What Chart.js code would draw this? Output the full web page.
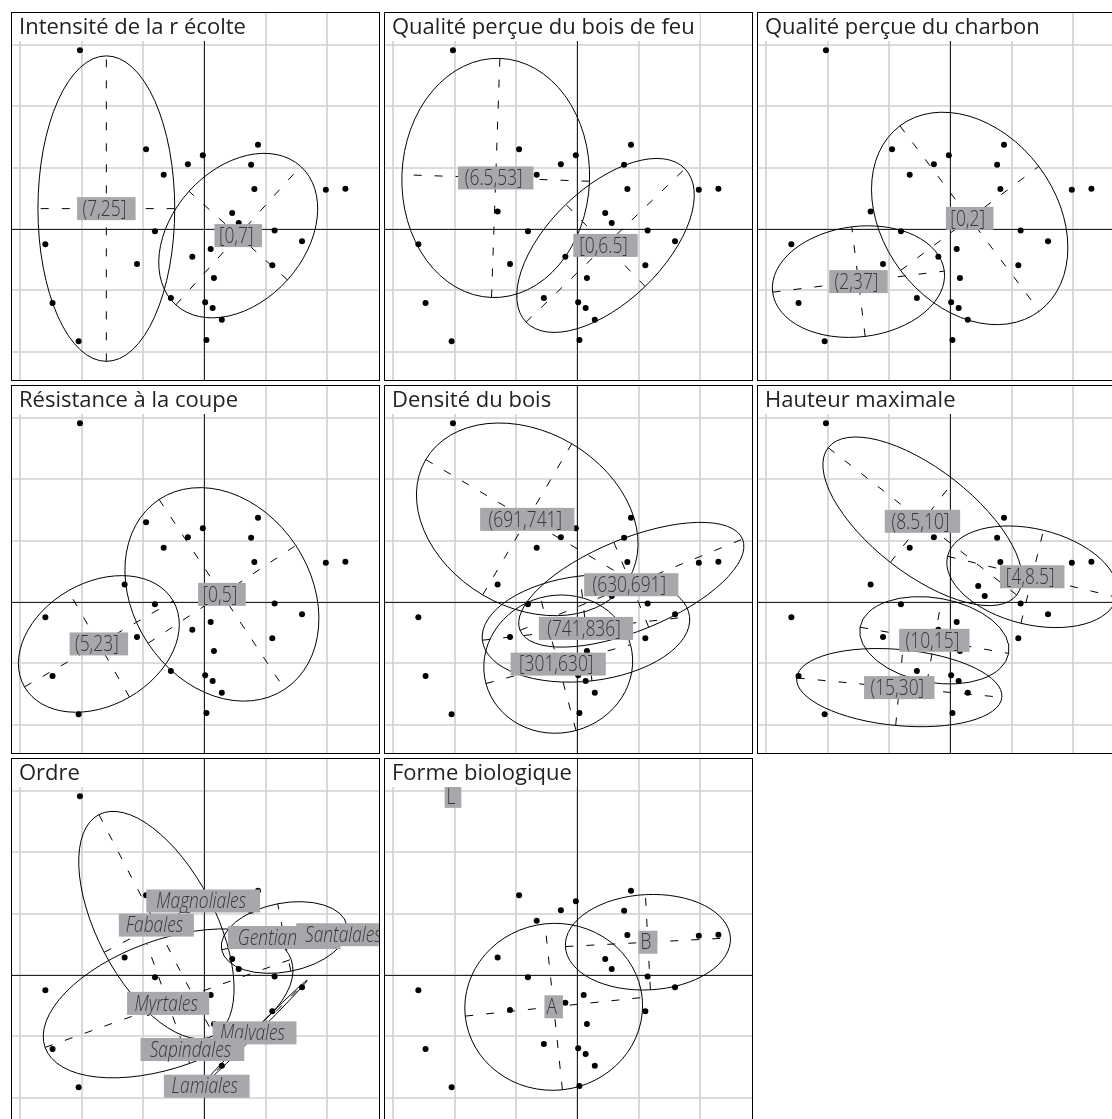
<!DOCTYPE html>
<html>
<head>
<meta charset="utf-8">
<script src="https://cdn.jsdelivr.net/npm/chart.js@4.4.0/dist/chart.umd.min.js"></script>
<style>
body { margin: 0; background: #fff; width: 1112px; height: 1119px; overflow: hidden; position: relative; }
canvas.panel { position: absolute; }
</style>
</head>
<body>
<script>
// species coordinates on the first two axes (grid units)
var pointX = [-2.03, -0.952, -0.027, -0.271, -0.665, 0.872, 0.760, 0.813, 1.978, 2.297, 0.452, 0.558, 1.143, 1.590, -0.808,
    -2.594, 0.101, -0.198, -1.100, 1.106, 0.154, -2.477, -0.548, 0.011, 0.133, 0.282, -2.052, 0.032, -1.302];
var pointY = [2.91, 1.297, 1.201, 1.053, 0.883, 1.372, 1.047, 0.649, 0.638, 0.654, 0.260, 0.096, -0.027, -0.202, -0.037,
    -0.25, -0.33, -0.453, -0.574, -0.595, -0.803, -1.207, -1.127, -1.196, -1.292, -1.483, -1.834, -1.813, 0.282];

var panelTitles = ['Intensité de la r écolte', 'Qualité perçue du bois de feu', 'Qualité perçue du charbon',
    'Résistance à la coupe', 'Densité du bois', 'Hauteur maximale', 'Ordre', 'Forme biologique'];

// one entry per class: panel, label, centre, ellipse half axes and angle (degrees)
var classPanel = [0, 0, 1, 1, 2, 2, 3, 3, 4, 4, 4, 4, 5, 5, 5, 5, 6, 6, 6, 6, 6, 6, 6, 6, 7, 7, 7];
var classLabel = ['(7,25]', '[0,7]', '(6.5,53]', '[0,6.5]', '[0,2]', '(2,37]', '[0,5]', '(5,23]',
    '(691,741]', '(630,691]', '(741,836]', '[301,630]', '(8.5,10]', '[4,8.5]', '(10,15]', '(15,30]',
    'Fabales', 'Gentianales', 'Lamiales', 'Magnoliales', 'Malvales', 'Myrtales', 'Santalales', 'Sapindales',
    'A', 'B', 'L'];
var classX = [-1.60, 0.55, -1.333, 0.457, 0.313, -1.50, 0.284, -1.722, -0.819, 0.877, 0.138, -0.314,
    -0.457, 1.332, -0.263, -0.835, -0.784, 1.30, 0.037, -0.021, 0.816, -0.593, 2.297, -0.197, -0.388, 1.148, -2.03];
var classY = [0.33, -0.11, 0.83, -0.27, 0.17, -0.86, 0.122, -0.686, 1.345, 0.279, -0.433, -1.015,
    1.313, 0.409, -0.627, -1.398, 0.811, 0.609, -1.815, 1.204, -0.946, -0.465, 0.654, -1.217, -0.521, 0.532, 2.91];
var ellA = [2.49, 1.52, 1.95, 1.80, 1.89, 1.41, 1.855, 1.40, 1.92, 1.96, 1.70, 1.22,
    1.95, 1.42, 1.23, 1.68, 2.03, 1.04, 0, 0, 1.21, 2.13, 0, 0, 1.45, 1.347, 0];
var ellB = [1.115, 1.08, 1.53, 0.93, 1.41, 0.90, 1.445, 1.0, 1.43, 0.75, 0.86, 1.12,
    0.85, 0.78, 0.69, 0.62, 0.96, 0.56, 0, 0, 0.035, 1.04, 0, 0, 1.36, 0.777, 0];
var ellAngle = [90, 48, 88, 44, -53, 7, -56.5, 30, -30.5, 22.3, 6.5, 15,
    -38, -13.6, -10, -5.4, -62.5, 11, 0, 0, 45, 19.7, 0, 0, 6, 3, 0];

var xMin = -3.089, xMax = 2.796, yMin = -2.415, yMax = 3.470;
var italicPanel = 6;
var labelSquash = 0.79;

var points = [];
for (var i = 0; i < pointX.length; i++) points.push({ x: pointX[i], y: pointY[i] });

function seg(ctx, x1, y1, x2, y2) {
    ctx.beginPath();
    ctx.moveTo(x1, y1);
    ctx.lineTo(x2, y2);
    ctx.stroke();
}

var sclassPlugin = {
    id: 'sclass',
    beforeDatasetsDraw: function (chart) {
        var ctx = chart.ctx, xs = chart.scales.x, ys = chart.scales.y;
        var w = chart.width, h = chart.height;
        ctx.save();
        ctx.fillStyle = '#fff';
        ctx.fillRect(0, 0, w, h);
        ctx.strokeStyle = '#d0d0d0';
        ctx.lineWidth = 1.6;
        for (var k = Math.ceil(xMin); k <= xMax; k++) {
            var px = Math.round(xs.getPixelForValue(k));
            seg(ctx, px, 0, px, h);
        }
        for (var k = Math.ceil(yMin); k <= yMax; k++) {
            var py = Math.round(ys.getPixelForValue(k));
            seg(ctx, 0, py, w, py);
        }
        ctx.strokeStyle = '#222';
        ctx.lineWidth = 1;
        var x0 = Math.round(xs.getPixelForValue(0)) + 0.5, y0 = Math.round(ys.getPixelForValue(0)) + 0.5;
        seg(ctx, x0, 0, x0, h);
        seg(ctx, 0, y0, w, y0);
        ctx.restore();
    },
    afterDatasetsDraw: function (chart) {
        var ctx = chart.ctx, xs = chart.scales.x, ys = chart.scales.y;
        var p = chart.options.plugins.sclass.panel;
        var unit = xs.getPixelForValue(1) - xs.getPixelForValue(0);
        ctx.save();
        ctx.strokeStyle = '#000';
        ctx.lineWidth = 1;
        for (var i = 0; i < classLabel.length; i++) {
            if (classPanel[i] !== p || ellA[i] === 0) continue;
            var t = ellAngle[i] * Math.PI / 180;
            var cx = xs.getPixelForValue(classX[i]), cy = ys.getPixelForValue(classY[i]);
            ctx.setLineDash([]);
            ctx.beginPath();
            ctx.ellipse(cx, cy, ellA[i] * unit, Math.max(ellB[i] * unit, 0.5), -t, 0, 2 * Math.PI);
            ctx.stroke();
            ctx.setLineDash([8, 13]);
            var ax = ellA[i] * Math.cos(t), ay = ellA[i] * Math.sin(t);
            var bx = -ellB[i] * Math.sin(t), by = ellB[i] * Math.cos(t);
            seg(ctx, xs.getPixelForValue(classX[i] - ax), ys.getPixelForValue(classY[i] - ay),
                xs.getPixelForValue(classX[i] + ax), ys.getPixelForValue(classY[i] + ay));
            seg(ctx, xs.getPixelForValue(classX[i] - bx), ys.getPixelForValue(classY[i] - by),
                xs.getPixelForValue(classX[i] + bx), ys.getPixelForValue(classY[i] + by));
        }
        ctx.setLineDash([]);
        // class labels (condensed horizontally to match the original narrow face)
        ctx.font = (p === italicPanel ? 'italic ' : '') + '300 22px "Open Sans"';
        ctx.textAlign = 'center';
        ctx.textBaseline = 'middle';
        for (var i = 0; i < classLabel.length; i++) {
            if (classPanel[i] !== p) continue;
            var cx = xs.getPixelForValue(classX[i]), cy = ys.getPixelForValue(classY[i]);
            var tw = ctx.measureText(classLabel[i]).width * labelSquash;
            var bw = tw * 1.2 + 6, bh = 23;
            ctx.fillStyle = '#a6a8ab';
            ctx.fillRect(cx - bw / 2, cy - bh / 2, bw, bh);
            ctx.save();
            ctx.translate(cx - 2, cy + 1);
            ctx.scale(labelSquash, 1);
            ctx.fillStyle = '#383838';
            ctx.fillText(classLabel[i], 0, 0);
            ctx.restore();
        }
        // title box
        ctx.font = '400 22px "Open Sans"';
        ctx.textAlign = 'left';
        ctx.textBaseline = 'alphabetic';
        var tw = ctx.measureText(panelTitles[p]).width;
        ctx.fillStyle = '#fff';
        ctx.fillRect(1, 1, tw + 12, 28);
        ctx.fillStyle = '#222';
        ctx.fillText(panelTitles[p], 8, 22);
        // frame
        ctx.strokeStyle = '#000';
        ctx.lineWidth = 1;
        ctx.strokeRect(0.5, 0.5, chart.width - 1, chart.height - 1);
        ctx.restore();
    }
};

var charts = [];
for (var p = 0; p < panelTitles.length; p++) {
    var cv = document.createElement('canvas');
    cv.className = 'panel';
    cv.width = 369;
    cv.height = 369;
    cv.style.left = (11 + 373 * (p % 3)) + 'px';
    cv.style.top = (12 + 373 * Math.floor(p / 3)) + 'px';
    document.body.appendChild(cv);
    charts.push(new Chart(cv, {
        type: 'scatter',
        data: {
            datasets: [{
                data: points,
                pointRadius: 3,
                pointBackgroundColor: '#000',
                pointBorderWidth: 0
            }]
        },
        options: {
            responsive: false,
            animation: false,
            events: [],
            layout: { padding: 0 },
            scales: {
                x: { type: 'linear', display: false, min: xMin, max: xMax },
                y: { type: 'linear', display: false, min: yMin, max: yMax }
            },
            plugins: {
                legend: { display: false },
                tooltip: { enabled: false },
                sclass: { panel: p }
            }
        },
        plugins: [sclassPlugin]
    }));
}
</script>
</body>
</html>
